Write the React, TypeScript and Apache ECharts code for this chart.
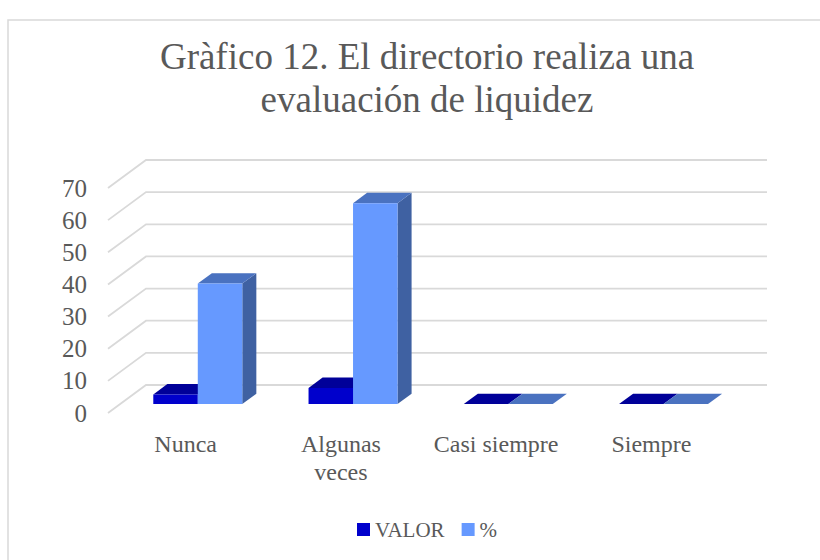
import React, { useEffect, useRef } from "react";
import * as echarts from "echarts";

// ---- data ----
const categories = ["Nunca", "Algunas veces", "Casi siempre", "Siempre"];
const categoryLabels = ["Nunca", "Algunas\nveces", "Casi siempre", "Siempre"];
const valorValues = [3, 5, 0, 0];
const percentValues = [37.5, 62.5, 0, 0];
const yTicks = [0, 10, 20, 30, 40, 50, 60, 70];
const seriesNames = ["VALOR", "%"];
const titleText = "Gràfico 12. El directorio realiza una\nevaluación de liquidez";

// ---- styling / geometry ----
const FONT = "'Liberation Serif', 'Times New Roman', serif";
const TEXT = "#595959";
const DEPTH_DX = 38;
const DEPTH_DY = -28;
const BAR_FRONT = 0.32;
const BAR_BACK = 0.69;
const BAR_W = 0.2866;

const valorColors = { front: "#0000CC", top: "#000099", side: "#00007A" };
const pctColors = { front: "#6699FF", top: "#4A72C0", side: "#3F61A2" };

function barRenderer(leftSide: boolean, colors: { front: string; top: string; side: string }) {
  return (params: any, api: any) => {
    const idx = api.value(0);
    const val = api.value(1);
    const base = api.coord([idx, 0]);
    const topP = api.coord([idx, val]);
    const band = api.size([1, 0])[0];
    const w = band * BAR_W;
    const xa = leftSide ? base[0] - w : base[0];
    const xb = xa + w;
    const fx = DEPTH_DX * BAR_FRONT;
    const fy = DEPTH_DY * BAR_FRONT;
    const bx = DEPTH_DX * BAR_BACK;
    const by = DEPTH_DY * BAR_BACK;
    const yb = base[1];
    const yt = topP[1];
    const front = [
      [xa + fx, yb + fy],
      [xb + fx, yb + fy],
      [xb + fx, yt + fy],
      [xa + fx, yt + fy],
    ];
    const top = [
      [xa + fx, yt + fy],
      [xb + fx, yt + fy],
      [xb + bx, yt + by],
      [xa + bx, yt + by],
    ];
    const side = [
      [xb + fx, yb + fy],
      [xb + bx, yb + by],
      [xb + bx, yt + by],
      [xb + fx, yt + fy],
    ];
    return {
      type: "group",
      children: [
        { type: "polygon", shape: { points: side }, style: { fill: colors.side } },
        { type: "polygon", shape: { points: top }, style: { fill: colors.top } },
        { type: "polygon", shape: { points: front }, style: { fill: colors.front } },
      ],
    };
  };
}

function gridRenderer(params: any, api: any) {
  const v = api.value(1);
  const y = api.coord([0, v])[1];
  const cs = params.coordSys;
  return {
    type: "polyline",
    shape: {
      points: [
        [cs.x, y],
        [cs.x + DEPTH_DX, y + DEPTH_DY],
        [cs.x + cs.width + DEPTH_DX, y + DEPTH_DY],
      ],
    },
    style: { stroke: "#D9D9D9", lineWidth: 1.8, fill: "none" },
  };
}

export default function App() {
  const ref = useRef<HTMLDivElement>(null);
  useEffect(() => {
    if (!ref.current) return;
    const chart = echarts.init(ref.current, null, { renderer: "svg" });
    chart.setOption({
      animation: false,
      backgroundColor: "#ffffff",
      title: {
        text: titleText,
        left: 422,
        top: 30,
        textAlign: "center",
        textStyle: {
          fontFamily: FONT,
          fontSize: 37,
          fontWeight: "normal",
          color: TEXT,
          lineHeight: 43,
        },
      },
      graphic: [
        {
          type: "rect",
          shape: { x: 8, y: 20, width: 840, height: 580 },
          style: { fill: "none", stroke: "#D9D9D9", lineWidth: 1.5 },
          silent: true,
          z: -1,
        },
      ],
      legend: {
        data: seriesNames,
        left: 352,
        top: 514,
        icon: "rect",
        itemWidth: 13,
        itemHeight: 13,
        itemGap: 17,
        textStyle: { fontFamily: FONT, fontSize: 21, color: TEXT },
      },
      grid: { left: 108, right: 91, top: 188, bottom: 147 },
      xAxis: {
        type: "category",
        data: categoryLabels,
        axisLine: { show: false },
        axisTick: { show: false },
        splitLine: { show: false },
        axisLabel: {
          interval: 0,
          margin: 17,
          fontFamily: FONT,
          fontSize: 24,
          lineHeight: 28,
          color: TEXT,
        },
      },
      yAxis: {
        type: "value",
        min: 0,
        max: 70,
        interval: 10,
        axisLine: { show: false },
        axisTick: { show: false },
        splitLine: { show: false },
        axisLabel: { margin: 21, fontFamily: FONT, fontSize: 25, color: TEXT },
      },
      series: [
        {
          type: "custom",
          name: "grid",
          silent: true,
          clip: false,
          z: 1,
          renderItem: gridRenderer,
          encode: { x: 0, y: 1 },
          data: yTicks.map((v) => [0, v]),
        },
        {
          type: "custom",
          name: seriesNames[0],
          clip: false,
          z: 2,
          itemStyle: { color: valorColors.front },
          renderItem: barRenderer(true, valorColors),
          encode: { x: 0, y: 1 },
          data: categories.map((_, i) => [i, valorValues[i]]),
        },
        {
          type: "custom",
          name: seriesNames[1],
          clip: false,
          z: 3,
          itemStyle: { color: pctColors.front },
          renderItem: barRenderer(false, pctColors),
          encode: { x: 0, y: 1 },
          data: categories.map((_, i) => [i, percentValues[i]]),
        },
      ],
    });
    return () => chart.dispose();
  }, []);
  return (
    <div
      ref={ref}
      style={{ position: "fixed", left: 0, top: 0, width: 820, height: 560 }}
    />
  );
}
